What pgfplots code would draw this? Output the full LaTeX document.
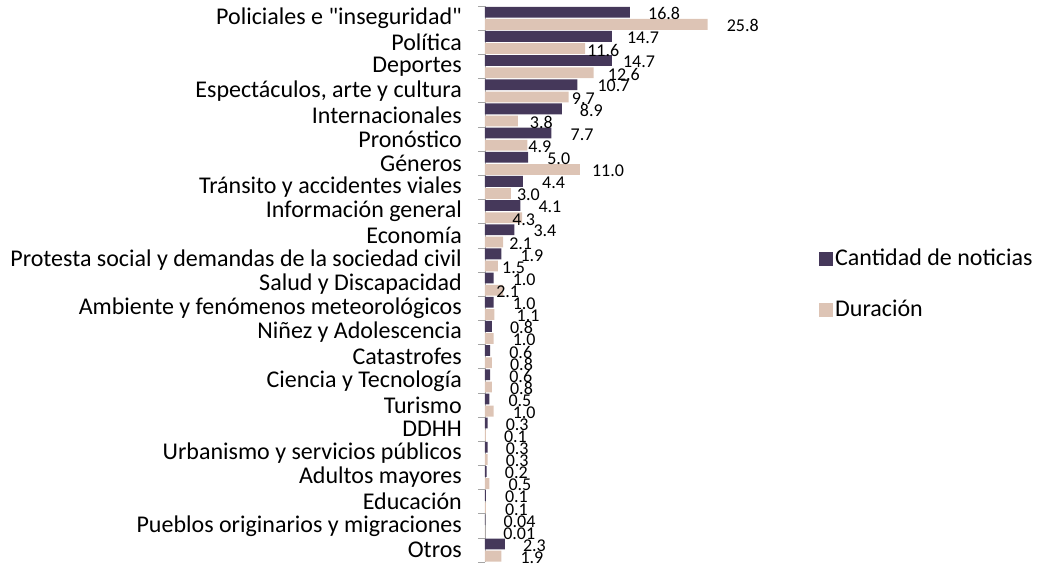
\documentclass[border=0pt]{standalone}
\usepackage{fontspec}
\setmainfont{Carlito}[Ligatures=TeXOff]
\usepackage{pgfplots}
\pgfplotsset{compat=1.18}
\usepackage{pgfplotstable}
\definecolor{cant}{RGB}{69,56,90}
\definecolor{dur}{RGB}{221,196,181}
\definecolor{axisgray}{RGB}{165,165,165}

% i: category index, cant/dur: values, clab/dlab: printed labels, coff/doff: label offsets (pt)
\pgfplotstableread{
i cant clab coff dur dlab doff
0 16.8 16.8 18 25.8 25.8 19
1 14.7 14.7 15 11.6 11.6 2
2 14.7 14.7 11 12.6 12.6 14
3 10.7 10.7 20 9.7 9.7 3
4 8.9 8.9 18 3.8 3.8 12
5 7.7 7.7 19 4.9 4.9 1
6 5.0 5.0 19 11.0 11.0 12
7 4.4 4.4 19 3.0 3.0 6
8 4.1 4.1 18 4.3 4.3 -10
9 3.4 3.4 19 2.1 2.1 6
10 1.9 1.9 19 1.5 1.5 4
11 1.0 1.0 19 2.1 2.1 -7
12 1.0 1.0 19 1.1 1.1 22
13 0.8 0.8 18 1.0 1.0 19
14 0.6 0.6 19 0.8 0.8 18
15 0.6 0.6 19 0.8 0.8 18
16 0.5 0.5 19 1.0 1.0 19
17 0.3 0.3 18 0.1 0.1 18
18 0.3 0.3 18 0.3 0.3 18
19 0.2 0.2 18 0.5 0.5 19
20 0.1 0.1 19 0.1 0.1 19
21 0.04 0.04 18 0.01 0.01 18
22 2.3 2.3 18 1.9 1.9 19
}\data

\begin{document}
\fontsize{24}{27}\selectfont
\begin{tikzpicture}
\begin{axis}[
  xbar,
  scale only axis,
  width=311pt, height=555.9pt,
  xmin=0, xmax=36.04,
  ymin=-0.5, ymax=22.5,
  y dir=reverse,
  axis y line*=left,
  axis x line=none,
  xtick=\empty,
  ytick={0,...,22},
  yticklabels={
    Policiales e "inseguridad",
    Política,
    Deportes,
    {Espectáculos, arte y cultura},
    Internacionales,
    Pronóstico,
    Géneros,
    Tránsito y accidentes viales,
    Información general,
    Economía,
    Protesta social y demandas de la sociedad civil,
    Salud y Discapacidad,
    Ambiente y fenómenos meteorológicos,
    Niñez y Adolescencia,
    Catastrofes,
    Ciencia y Tecnología,
    Turismo,
    DDHH,
    Urbanismo y servicios públicos,
    Adultos mayores,
    Educación,
    Pueblos originarios y migraciones,
    Otros},
  minor ytick={-0.5,0.5,...,22.5},
  major tick length=0pt,
  minor tick length=7pt,
  tick align=outside,
  tick style={axisgray, line width=0.8pt},
  y axis line style={axisgray, line width=0.8pt},
  yticklabel style={xshift=-15pt},
  bar width=10.8pt,
  legend style={at={(axis description cs:1,0.5)}, anchor=west, xshift=20pt,
    draw=none, fill=none, row sep=27pt,
    nodes={inner sep=2pt}},
  legend cell align=left,
  legend image code/.code={\fill[#1] (0pt,-7pt) rectangle (14pt,7pt);},
]
\addplot[fill=cant, draw=none, bar shift=6.1pt,
  nodes near coords, point meta=explicit symbolic,
  visualization depends on={\thisrow{coff} \as \off},
  every node near coord/.append style={anchor=west, inner sep=0pt, xshift=\off pt, yshift=-1.5pt, text=black, font=\fontsize{18}{20}\selectfont}]
  table[x=cant, y=i, meta=clab] {\data};
\addplot[fill=dur, draw=none, bar shift=-6.1pt,
  nodes near coords, point meta=explicit symbolic,
  visualization depends on={\thisrow{doff} \as \off},
  every node near coord/.append style={anchor=west, inner sep=0pt, xshift=\off pt, yshift=-1.5pt, text=black, font=\fontsize{18}{20}\selectfont}]
  table[x=dur, y=i, meta=dlab] {\data};
\legend{Cantidad de noticias, Duración}
\end{axis}
\pgfresetboundingbox
\path[use as bounding box] (-485pt,-3.9pt) rectangle (552pt,562.1pt);
\end{tikzpicture}
\end{document}
